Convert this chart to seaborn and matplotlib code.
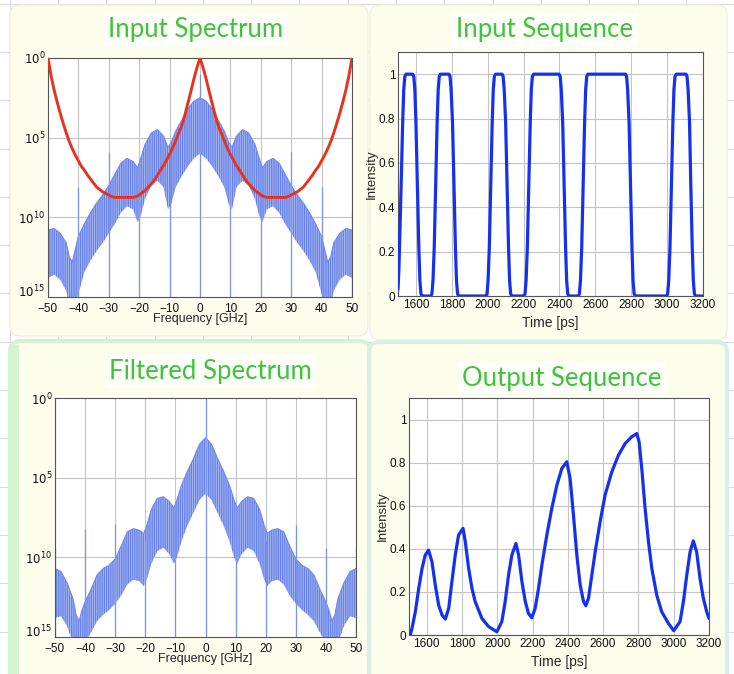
import numpy as np
import pandas as pd
import matplotlib
matplotlib.use("Agg")
import matplotlib.pyplot as plt
import seaborn as sns
from matplotlib.patches import FancyBboxPatch, Rectangle
from matplotlib.lines import Line2D
from matplotlib.transforms import IdentityTransform


# =========================
# Data
# =========================
# spectra: envelopes in decades below 1 (value = 10^-d), positive half, mirrored
freq_half = [0, 2, 4, 6, 8, 9.5, 10.5, 12, 14, 16, 18, 19.5, 20.5, 22, 24, 26, 28,
             30, 32, 34, 36, 38, 40, 41, 42, 43, 44, 46, 48, 50]
in_upper = [2.5, 2.7, 3.2, 3.9, 4.6, 5.3, 5.6, 4.9, 4.5, 4.7, 5.4, 6.3, 6.9, 6.5, 6.3, 6.6, 7.3,
            8.0, 8.6, 9.1, 9.7, 10.4, 11.2, 12.0, 12.8, 12.5, 11.6, 11.0, 10.7, 10.8]
in_lower = [6.0, 6.3, 6.8, 7.4, 8.1, 9.2, 9.5, 8.1, 7.7, 8.0, 8.8, 9.9, 10.3, 9.5, 9.3, 9.7, 10.4,
            11.0, 11.6, 12.1, 12.7, 13.4, 14.8, 15.5, 16.0, 15.5, 14.6, 13.9, 13.6, 13.8]
flt_upper = [2.5, 2.9, 3.8, 4.6, 5.5, 6.4, 6.9, 6.5, 6.2, 6.3, 7.0, 8.0, 8.5, 8.3, 8.2, 8.4, 9.3,
             10.1, 10.5, 10.7, 11.1, 12.0, 12.8, 13.3, 14.0, 13.6, 12.6, 11.6, 10.9, 10.7]
flt_lower = [6.0, 6.4, 7.2, 8.0, 9.0, 10.0, 10.4, 9.8, 9.4, 9.6, 10.4, 11.4, 11.8, 11.5, 11.4, 11.7, 12.4,
             12.9, 13.3, 13.6, 14.0, 14.7, 15.4, 16.0, 16.0, 16.0, 15.4, 14.3, 13.7, 13.8]

# clock tones (decades below 1)
tone_freq = [-50, -40, -30, -20, -10, 0, 10, 20, 30, 40, 50]
in_tone = [11.0, 8.1, 5.9, 7.0, 5.5, 1.0, 5.5, 7.0, 5.9, 8.1, 9.5]
flt_tone = [9.4, 8.2, 7.9, 9.0, 7.0, 0.0, 7.0, 9.0, 8.0, 9.4, 9.4]

# red filter curve, 1 GHz steps 0..50 (decades below 1), mirrored
filter_half = [0.0, 0.6, 1.3, 2.1, 2.85, 3.6, 4.25, 4.7, 5.2, 5.65, 6.05, 6.4, 6.75, 7.05, 7.35,
               7.65, 7.9, 8.1, 8.3, 8.45, 8.6, 8.7, 8.75, 8.75, 8.75, 8.75, 8.75, 8.75, 8.75, 8.7,
               8.6, 8.5, 8.4, 8.25, 8.1, 7.85, 7.6, 7.35, 7.05, 6.8, 6.45, 6.1, 5.7, 5.25, 4.7,
               4.1, 3.45, 2.75, 2.0, 1.1, 0.0]

seq_in_time = [1500, 1505, 1512, 1519, 1526, 1532, 1538, 1545, 1582, 1588, 1594, 1600, 1608, 1616, 1622, 1628, 1635,
               1683, 1689, 1695, 1702, 1710, 1718, 1724, 1730, 1737, 1784, 1790, 1796, 1804, 1812, 1820, 1826, 1832, 1839,
               1990, 1996, 2002, 2009, 2017, 2025, 2031, 2037, 2044, 2080, 2086, 2092, 2100, 2108, 2116, 2122, 2128, 2135,
               2202, 2208, 2214, 2221, 2229, 2237, 2243, 2249, 2256, 2398, 2404, 2410, 2418, 2426, 2434, 2440, 2446, 2453,
               2505, 2511, 2517, 2524, 2532, 2540, 2546, 2552, 2559, 2768, 2774, 2780, 2788, 2796, 2804, 2810, 2816, 2823,
               2997, 3003, 3009, 3016, 3024, 3032, 3038, 3044, 3051, 3105, 3111, 3117, 3125, 3132, 3140, 3146, 3152, 3159,
               3200]
seq_in_int = [0.03, 0.12, 0.33, 0.55, 0.78, 0.93, 0.99, 1.0, 1.0, 0.99, 0.93, 0.78, 0.5, 0.22, 0.07, 0.01, 0.0,
              0.0, 0.01, 0.07, 0.22, 0.5, 0.78, 0.93, 0.99, 1.0, 1.0, 0.99, 0.93, 0.78, 0.5, 0.22, 0.07, 0.01, 0.0,
              0.0, 0.01, 0.07, 0.22, 0.5, 0.78, 0.93, 0.99, 1.0, 1.0, 0.99, 0.93, 0.78, 0.5, 0.22, 0.07, 0.01, 0.0,
              0.0, 0.01, 0.07, 0.22, 0.5, 0.78, 0.93, 0.99, 1.0, 1.0, 0.99, 0.93, 0.78, 0.5, 0.22, 0.07, 0.01, 0.0,
              0.0, 0.01, 0.07, 0.22, 0.5, 0.78, 0.93, 0.99, 1.0, 1.0, 0.99, 0.93, 0.78, 0.5, 0.22, 0.07, 0.01, 0.0,
              0.0, 0.01, 0.07, 0.22, 0.5, 0.78, 0.93, 0.99, 1.0, 1.0, 0.99, 0.93, 0.78, 0.5, 0.22, 0.07, 0.01, 0.0,
              0.0]

seq_out_time = [1507, 1517, 1536, 1555, 1574, 1592, 1611, 1630, 1649, 1668, 1687, 1706, 1725, 1743, 1762, 1781,
                1806, 1819, 1838, 1857, 1875, 1913, 1951, 1998, 2026, 2045, 2064, 2083, 2106, 2121, 2140, 2159,
                2177, 2196, 2215, 2234, 2253, 2281, 2309, 2338, 2366, 2394, 2413, 2432, 2451, 2470, 2489, 2502,
                2517, 2536, 2555, 2583, 2611, 2649, 2687, 2725, 2762, 2791, 2804, 2819, 2838, 2857, 2876, 2904,
                2932, 2970, 3000, 3036, 3055, 3074, 3093, 3111, 3130, 3149, 3168, 3187, 3200]
seq_out_int = [0.0, 0.031, 0.108, 0.216, 0.309, 0.371, 0.394, 0.340, 0.232, 0.139, 0.093, 0.074, 0.124, 0.247,
               0.371, 0.464, 0.495, 0.433, 0.309, 0.216, 0.155, 0.077, 0.039, 0.015, 0.062, 0.155, 0.278, 0.371,
               0.425, 0.371, 0.247, 0.155, 0.100, 0.080, 0.124, 0.216, 0.325, 0.464, 0.587, 0.696, 0.773, 0.804,
               0.726, 0.556, 0.371, 0.232, 0.155, 0.136, 0.170, 0.278, 0.386, 0.526, 0.649, 0.757, 0.835, 0.889,
               0.920, 0.935, 0.896, 0.773, 0.587, 0.433, 0.309, 0.185, 0.108, 0.054, 0.020, 0.062, 0.155, 0.278,
               0.386, 0.437, 0.386, 0.263, 0.170, 0.108, 0.077]

freq_ticks = [-50, -40, -30, -20, -10, 0, 10, 20, 30, 40, 50]
time_ticks = [1600, 1800, 2000, 2200, 2400, 2600, 2800, 3000, 3200]
int_ticks = [0, 0.2, 0.4, 0.6, 0.8, 1.0]
int_labels = ["0", "0.2", "0.4", "0.6", "0.8", "1"]
spec_ticks = [1, 1e-5, 1e-10, 1e-15]
spec_labels = ["$10^{0}$", "$10^{5}$", "$10^{10}$", "$10^{15}$"]

W, H = 734, 674
GREEN = "#3cc43c"


def mirror(values):
    v = np.asarray(values, dtype=float)
    return np.concatenate([v[::-1], v[1:]])


def px_rect(x0, y0, x1, y1):
    # pixel box (top-left origin) -> figure fraction [l, b, w, h]
    return [x0 / W, 1 - y1 / H, (x1 - x0) / W, (y1 - y0) / H]


def style_axes(ax):
    ax.set_facecolor("white")
    ax.grid(True, color="#c4c4c4", lw=0.8)
    for s in ax.spines.values():
        s.set_color("#555555")
        s.set_linewidth(0.8)
    ax.tick_params(length=0, labelsize=8.5, pad=2, colors="#111111")


def draw_spectrum(ax, upper, lower, tones, with_filter):
    f = np.concatenate([-np.array(freq_half[::-1]), np.array(freq_half[1:])])
    up = 10.0 ** (-mirror(upper))
    lo = 10.0 ** (-mirror(lower))
    ax.fill_between(f, lo, up, facecolor="#a3b5f3", edgecolor="#4d69e2",
                    hatch="|||||||||", linewidth=0, zorder=2)
    ax.plot(f, up, color="#6f88ec", lw=0.8, zorder=2)
    ax.vlines(tone_freq, 1e-16, 10.0 ** (-np.array(tones)), color="#7d94ee", lw=0.9, zorder=2)
    if with_filter:
        red = pd.DataFrame({"f": np.arange(-50, 51), "p": 10.0 ** (-mirror(filter_half))})
        sns.lineplot(data=red, x="f", y="p", ax=ax, color="#e8321e", lw=2.1, zorder=3)
    ax.set_yscale("log")
    ax.set_xlim(-50, 50)
    ax.set_ylim(1e-15, 1)
    ax.set_xticks(freq_ticks)
    ax.set_yticks(spec_ticks)
    ax.set_yticklabels(spec_labels)
    ax.minorticks_off()
    ax.tick_params(axis="x", pad=4)
    # bottom label sits above the x tick labels
    ax.get_yticklabels()[-1].set_verticalalignment("baseline")
    ax.set_xlabel("Frequency [GHz]", fontsize=9, labelpad=-1)
    ax.set_ylabel("")


def draw_sequence(ax, t, v):
    df = pd.DataFrame({"t": t, "v": v})
    sns.lineplot(data=df, x="t", y="v", ax=ax, color="#1530f0", lw=2.3, zorder=3)
    ax.set_xlim(1500, 3200)
    ax.set_ylim(0, 1.1)
    ax.set_xticks(time_ticks)
    ax.set_yticks(int_ticks)
    ax.set_yticklabels(int_labels)
    ax.set_xlabel("Time [ps]", fontsize=10, labelpad=4)
    ax.set_ylabel("Intensity", fontsize=9.5, labelpad=1)


# =========================
# Figure
# =========================
sns.set_theme(style="whitegrid")
plt.rcParams["font.family"] = ["Liberation Sans", "DejaVu Sans"]
plt.rcParams["hatch.linewidth"] = 0.5

fig = plt.figure(figsize=(W / 100, H / 100), dpi=100)
fig.patch.set_facecolor("white")

# sheet grid in the background
for k in range(16):
    x = 9.7 + 48.3 * k
    y = 3.7 + 48.3 * k
    fig.add_artist(Line2D([x / W, x / W], [0, 1], color="#dadada", lw=0.8, zorder=-5))
    fig.add_artist(Line2D([0, 1], [1 - y / H, 1 - y / H], color="#dadada", lw=0.8, zorder=-5))


def panel(x0, y0, x1, y1, edge, lw):
    p = FancyBboxPatch((x0, H - y1), x1 - x0, y1 - y0,
                       boxstyle="round,pad=0,rounding_size=10",
                       facecolor="#fdfdec", edgecolor=edge, lw=lw,
                       transform=IdentityTransform(), zorder=-3)
    fig.add_artist(p)


panel(10, 5, 368, 336, "#efefd8", 1.0)
panel(370, 5, 727, 340, "#eef2dc", 1.0)
panel(10, 341, 370, 690, "#d6f3cf", 3.0)
panel(369, 342, 727, 690, "#d7efe6", 3.0)
fig.add_artist(Rectangle((10, 0), 9, H - 345, facecolor="#d6f3cf", edgecolor="none",
                         transform=IdentityTransform(), zorder=-2))

ax1 = fig.add_axes(px_rect(48, 58, 352, 297))
ax2 = fig.add_axes(px_rect(398, 52, 703, 296))
ax3 = fig.add_axes(px_rect(55, 398, 356, 637))
ax4 = fig.add_axes(px_rect(409, 398, 709, 635))

for ax in (ax1, ax2, ax3, ax4):
    style_axes(ax)

draw_spectrum(ax1, in_upper, in_lower, in_tone, True)
draw_sequence(ax2, seq_in_time, seq_in_int)
draw_spectrum(ax3, flt_upper, flt_lower, flt_tone, False)
draw_sequence(ax4, seq_out_time, seq_out_int)


def title(text, x, y):
    fig.text(x / W, 1 - y / H, text, ha="center", va="center", color=GREEN,
             fontsize=18.5, family=["Lato", "DejaVu Sans"],
             bbox=dict(facecolor="#fffffa", edgecolor="none", pad=3))


title("Input Spectrum", 196, 30)
title("Input Sequence", 545, 30)
title("Filtered Spectrum", 210, 371)
title("Output Sequence", 562, 378)

fig.savefig("out.png", dpi=100)
